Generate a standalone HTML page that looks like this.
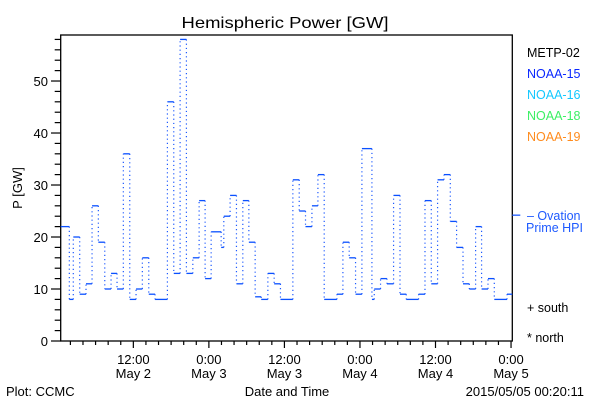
<!DOCTYPE html>
<html><head><meta charset="utf-8"><style>
html,body{margin:0;padding:0;background:#fff;}
svg{display:block;font-family:"Liberation Sans",sans-serif;}
</style></head><body>
<svg id="chart" width="600" height="400" viewBox="0 0 600 400" xmlns="http://www.w3.org/2000/svg">
<rect x="0" y="0" width="600" height="400" fill="#fff"/>
<text x="285" y="28" font-size="16" text-anchor="middle" textLength="207" lengthAdjust="spacingAndGlyphs">Hemispheric Power [GW]</text>
<text transform="translate(22,188) rotate(-90)" font-size="13" text-anchor="middle">P [GW]</text>
<g id="axes"></g>
<g id="series"></g>
<g font-size="12.5">
<text x="527" y="57" fill="#000">METP-02</text>
<text x="527" y="78" fill="#0a28ff">NOAA-15</text>
<text x="527" y="99" fill="#14c8ff">NOAA-16</text>
<text x="527" y="120" fill="#3cf064">NOAA-18</text>
<text x="527" y="141" fill="#ff8c1e">NOAA-19</text>
<text x="527" y="220" fill="#1e5aff">– Ovation</text>
<text x="526" y="232" fill="#1e5aff">Prime HPI</text>
<text x="527" y="312" fill="#000">+ south</text>
<text x="527" y="342" fill="#000">* north</text>
</g>
<text x="287" y="396" font-size="13" text-anchor="middle">Date and Time</text>
<text x="6" y="396" font-size="13">Plot: CCMC</text>
<text x="584" y="396" font-size="13" text-anchor="end">2015/05/05 00:20:11</text>
</svg>
<script>
// segment start times (hours since 2015-05-02 00:00) and power values (GW)
const times = [0.46,1.83,2.46,3.48,4.48,5.44,6.44,7.46,8.46,9.41,10.41,11.43,12.43,13.43,14.45,15.45,17.41,18.42,19.43,20.43,21.45,22.45,23.40,24.36,25.95,26.37,27.37,28.38,29.39,30.35,31.35,32.31,33.37,34.37,35.37,37.34,38.35,39.35,40.37,41.32,42.32,44.34,45.29,46.29,47.30,48.31,49.90,50.27,51.27,52.29,53.34,54.36,55.36,57.31,58.33,59.33,60.33,61.35,62.35,63.35,64.37,65.37,66.37,67.32,68.34,69.34,71.36];
const values = [22,8,20,9,11,26,19,10,13,10,36,8,10,16,9,8,46,13,58,13,16,27,12,21,18,24,28,11,27,19,8.5,8,13,11,8,31,25,22,26,32,8,9,19,16,9,37,8,10,12,11,28,9,8,9,27,11,31,32,23,18,11,10,22,10,12,8,9];
const yTicks = [0,10,20,30,40,50];
const xMajor = [12,24,36,48,60,72];
const xMajorTime = ["12:00","0:00","12:00","0:00","12:00","0:00"];
const xMajorDate = ["May 2","May 3","May 3","May 4","May 4","May 5"];
const ovationValue = [24.2];

const NS="http://www.w3.org/2000/svg";
const L=60.7,R=512.3,T=35,B=341;
const tMin=0.46,tMax=72.2,yMax=58.85;
const xs=t=>L+(t-tMin)*(R-L)/(tMax-tMin);
const ys=v=>B-v*(B-T)/yMax;
function mk(tag,attrs,parent){const e=document.createElementNS(NS,tag);for(const k in attrs)e.setAttribute(k,attrs[k]);parent.appendChild(e);return e;}
const axes=document.getElementById('axes');
const frame=mk('rect',{x:L,y:T,width:R-L,height:B-T,fill:'none',stroke:'#000','stroke-width':1.3},axes);


for(let v=0;v<=yMax;v+=2){
  const major=v%10===0;
  const tk=mk('line',{x1:major?51:54.7,x2:L,y1:ys(v),y2:ys(v),stroke:'#000','stroke-width':1.2},axes);
  
  
}
yTicks.forEach(v=>{
  const t=mk('text',{x:48,y:ys(v)+5,'font-size':13,'text-anchor':'end'},axes);
  t.textContent=v;
  
  
});
for(let h=2;h<=72;h+=2){
  if(h<tMin||h>tMax)continue;
  const major=h%12===0;
  const tk=mk('line',{x1:xs(h),x2:xs(h),y1:B,y2:B+(major?7:4),stroke:'#000','stroke-width':1.2},axes);
  
  
}
xMajor.forEach((h,i)=>{
  const a=mk('text',{x:xs(h),y:364,'font-size':13,'text-anchor':'middle'},axes);
  a.textContent=xMajorTime[i];
  
  
  const b=mk('text',{x:xs(h),y:378,'font-size':13,'text-anchor':'middle'},axes);
  b.textContent=xMajorDate[i];
  
  
});
const g=document.getElementById('series');
for(let i=0;i<values.length;i++){
  const x1=xs(times[i]);
  const x2=i+1<times.length?xs(times[i+1]):R;
  const h=mk('line',{x1:x1,x2:x2,y1:ys(values[i]),y2:ys(values[i]),stroke:'#0a50ff','stroke-width':1.3},g);
  
  
  if(i+1<values.length){
    const v=mk('line',{x1:x2,x2:x2,y1:ys(values[i]),y2:ys(values[i+1]),stroke:'#1e5aff','stroke-width':1.2,'stroke-dasharray':'1.2 3'},g);
    
    
  }
}
const ov=mk('line',{x1:R,x2:R+8,y1:ys(ovationValue[0]),y2:ys(ovationValue[0]),stroke:'#1e5aff','stroke-width':1.3},g);


</script>
</body></html>
